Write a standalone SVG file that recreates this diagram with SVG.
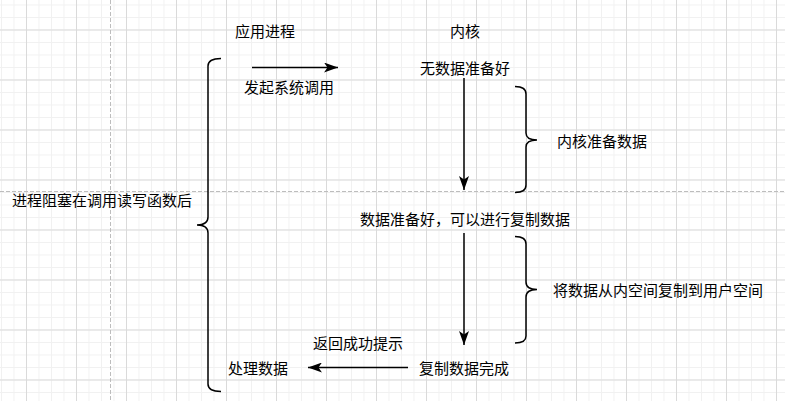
<svg xmlns="http://www.w3.org/2000/svg" width="785" height="401" viewBox="0 0 785 401">
<style>
.t{font-family:"Noto Sans CJK SC","Microsoft YaHei",sans-serif;font-size:15px;fill:#000;text-anchor:middle;dominant-baseline:central}
.ln{stroke:#000;stroke-width:1.5;fill:none}
.br{stroke:#000;stroke-width:1.5;fill:none}
.pg{stroke:#bdbdbd;stroke-width:1;stroke-dasharray:4 2;fill:none}
</style>
<defs>
<pattern id="minor" patternUnits="userSpaceOnUse" x="1" y="4.5" width="12.5" height="12.5">
<rect x="0" y="0" width="12.5" height="1" fill="#f1f1f1"/>
<rect x="0" y="0" width="1" height="12.5" fill="#f1f1f1"/>
</pattern>
<pattern id="major" patternUnits="userSpaceOnUse" x="26" y="29.5" width="50" height="50">
<rect x="0" y="0" width="50" height="1" fill="#dadada"/>
<rect x="0" y="0" width="1" height="50" fill="#dadada"/>
</pattern>
<marker id="arr" viewBox="0 0 14 10" refX="14" refY="5" markerWidth="14" markerHeight="10" orient="auto" markerUnits="userSpaceOnUse">
<path d="M0,0 L14,5 L0,10 L3.5,5 Z" fill="#000"/>
</marker>
</defs>
<rect width="785" height="401" fill="#fff"/>
<rect width="785" height="401" fill="url(#minor)"/>
<rect width="785" height="401" fill="url(#major)"/>
<line class="pg" x1="110.5" y1="0" x2="110.5" y2="401"/>
<line class="pg" x1="0" y1="191.5" x2="785" y2="191.5"/>

<g id="connectors">
<line class="ln" x1="252" y1="67.5" x2="338" y2="67.5" marker-end="url(#arr)"/>
<line class="ln" x1="464" y1="78" x2="464" y2="190" marker-end="url(#arr)"/>
<line class="ln" x1="464" y1="233" x2="464" y2="345" marker-end="url(#arr)"/>
<line class="ln" x1="408" y1="367.5" x2="308" y2="367.5" marker-end="url(#arr)"/>
</g>

<g id="brace-left">
<path class="br" d="M221,58.5 Q208,58.5 208,66 L208,217 Q208,225 197,225 Q208,225 208,233 L208,384 Q208,391.5 221,391.5"/>
</g>
<g id="brace-right-1">
<path class="br" d="M515,86.5 Q526,86.5 526,94 L526,133 Q526,140 537,140 Q526,140 526,147 L526,185 Q526,192.5 515,192.5"/>
</g>
<g id="brace-right-2">
<path class="br" d="M515,236.5 Q526,236.5 526,244 L526,282 Q526,289.5 537,289.5 Q526,289.5 526,297 L526,336 Q526,343 515,343"/>
</g>

<g id="label-app"><text class="t" x="265" y="30">应用进程</text></g>
<g id="label-kernel"><text class="t" x="465" y="30">内核</text></g>
<g id="label-syscall"><text class="t" x="289" y="86.5">发起系统调用</text></g>
<g id="node-nodata"><text class="t" x="465" y="67.5">无数据准备好</text></g>
<g id="label-prep"><text class="t" x="602" y="140">内核准备数据</text></g>
<g id="label-blocked"><text class="t" x="102" y="199">进程阻塞在调用读写函数后</text></g>
<g id="node-ready"><text class="t" x="465" y="218">数据准备好，可以进行复制数据</text></g>
<g id="label-copy"><text class="t" x="658" y="289.5">将数据从内空间复制到用户空间</text></g>
<g id="label-return"><text class="t" x="358" y="342.5">返回成功提示</text></g>
<g id="node-process"><text class="t" x="258" y="367.5">处理数据</text></g>
<g id="node-done"><text class="t" x="464" y="367.5">复制数据完成</text></g>
</svg>
